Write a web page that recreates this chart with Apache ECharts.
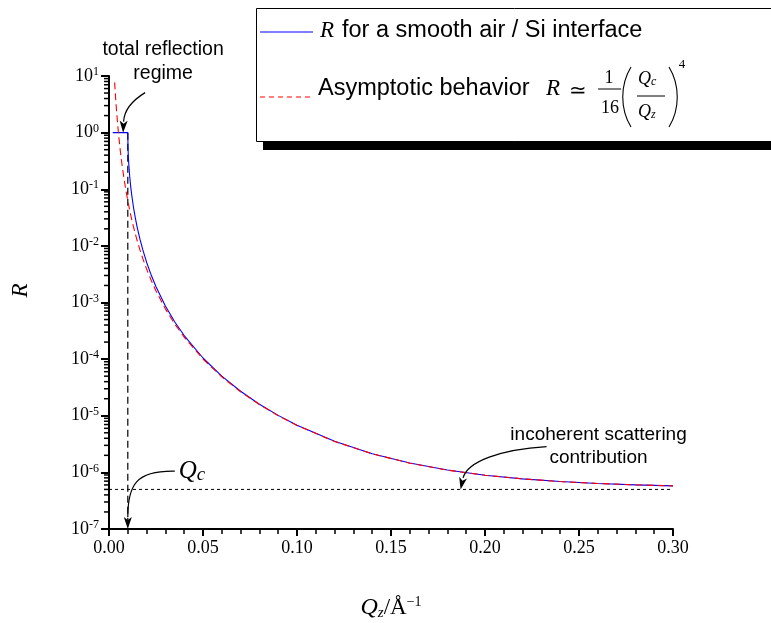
<!DOCTYPE html>
<html>
<head>
<meta charset="utf-8">
<script src="https://cdn.jsdelivr.net/npm/echarts@6/dist/echarts.min.js"></script>
<style>
  html, body { margin: 0; padding: 0; background: #fff; }
  #chart { width: 771px; height: 623px; }
</style>
</head>
<body>
<div id="chart"></div>
<script>
// reflectivity of a smooth air / Si interface
const qzSmooth = [0.002, 0.01, 0.0101, 0.0102, 0.0103, 0.0105, 0.011, 0.0115, 0.012, 0.013, 0.014, 0.015,
  0.0165, 0.018, 0.02, 0.0225, 0.025, 0.03, 0.035, 0.04, 0.05, 0.06, 0.07, 0.08, 0.09, 0.10,
  0.12, 0.14, 0.16, 0.18, 0.20, 0.22, 0.24, 0.26, 0.28, 0.30]
const rSmooth = [1, 1, 0.568, 0.450, 0.376, 0.284, 0.170, 0.115, 0.0830, 0.0485, 0.0312, 0.0213,
  0.0130, 0.00847, 0.00515, 0.00302, 0.00190, 8.67e-4, 4.53e-4, 2.61e-4, 1.046e-4, 5.01e-5, 2.71e-5, 1.60e-5, 1.015e-5, 6.81e-6,
  3.54e-6, 2.14e-6, 1.46e-6, 1.10e-6, 8.92e-7, 7.67e-7, 6.89e-7, 6.37e-7, 6.02e-7, 5.77e-7]

// asymptotic behaviour (dashed red)
const qzAsym = [0.003, 0.0035, 0.004, 0.005, 0.006, 0.007, 0.008, 0.009, 0.01, 0.011, 0.012, 0.013, 0.014, 0.015,
  0.0165, 0.018, 0.02, 0.0225, 0.025, 0.03, 0.035, 0.04, 0.05, 0.06, 0.07, 0.08, 0.09, 0.10,
  0.12, 0.14, 0.16, 0.18, 0.20, 0.22, 0.24, 0.26, 0.28, 0.30]
const rAsym = [7.72, 4.17, 2.44, 1.0, 0.482, 0.260, 0.153, 0.0953, 0.0625, 0.0427, 0.0301, 0.0219, 0.0163, 0.0123,
  0.00843, 0.00595, 0.00391, 0.00244, 0.00160, 7.72e-4, 4.17e-4, 2.45e-4, 1.005e-4, 4.87e-5, 2.65e-5, 1.58e-5, 1.003e-5, 6.75e-6,
  3.51e-6, 2.13e-6, 1.454e-6, 1.095e-6, 8.91e-7, 7.67e-7, 6.88e-7, 6.37e-7, 6.02e-7, 5.77e-7]

const qcLine = [[0.01, 1], [0.01, 1e-7]]
const incoherentLine = [[0, 5e-7], [0.3, 5e-7]]

const yDecades = [-7, -6, -5, -4, -3, -2, -1, 0]
const minorSteps = [2, 3, 4, 5, 6, 7, 8, 9]

const SERIF = 'Liberation Serif'
const SANS = 'Liberation Sans'

const zip = (xs, ys) => xs.map((x, i) => [x, ys[i]])

const chart = echarts.init(document.getElementById('chart'))

chart.setOption({
  animation: false,
  backgroundColor: '#fff',
  grid: { left: 109, right: 98, top: 76, bottom: 94, containLabel: false, outerBoundsMode: 'none' },
  xAxis: {
    type: 'value',
    min: 0,
    max: 0.3,
    interval: 0.05,
    name: '{q|Q}{s|z}{n|/Å}{p|−1}',
    nameLocation: 'middle',
    nameGap: 66,
    nameTextStyle: {
      rich: {
        q: { fontFamily: SERIF, fontStyle: 'italic', fontSize: 24, lineHeight: 26, color: '#000' },
        s: { fontFamily: SERIF, fontStyle: 'italic', fontSize: 15, lineHeight: 12, verticalAlign: 'bottom', color: '#000' },
        n: { fontFamily: SERIF, fontSize: 23, lineHeight: 26, color: '#000' },
        p: { fontFamily: SERIF, fontSize: 14, lineHeight: 12, verticalAlign: 'top', color: '#000' }
      }
    },
    axisLine: { lineStyle: { color: '#000', width: 2 } },
    axisTick: { length: 7, lineStyle: { color: '#000', width: 2 } },
    minorTick: { show: true, splitNumber: 5, length: 5, lineStyle: { color: '#000', width: 1.5 } },
    splitLine: { show: false },
    axisLabel: {
      margin: 10,
      fontFamily: SERIF,
      fontSize: 18,
      color: '#000',
      formatter: v => v.toFixed(2)
    }
  },
  yAxis: {
    type: 'log',
    logBase: 10,
    min: 1e-7,
    max: 10,
    splitNumber: 8,
    name: 'R',
    nameLocation: 'middle',
    nameGap: 77,
    nameRotate: 90,
    nameTextStyle: { fontFamily: SERIF, fontStyle: 'italic', fontSize: 23, color: '#000', padding: [0, 0, 0, 24] },
    axisLine: { show: true, lineStyle: { color: '#000', width: 2 } },
    axisTick: { show: true, length: 8, lineStyle: { color: '#000', width: 2 } },
    splitLine: { show: false },
    axisLabel: {
      margin: 10,
      formatter: v => '{b|10}{s|' + Math.round(Math.log10(v)) + '}',
      rich: {
        b: { fontFamily: SERIF, fontSize: 18, lineHeight: 20, color: '#000' },
        s: { fontFamily: SERIF, fontSize: 12, lineHeight: 12, verticalAlign: 'top', color: '#000' }
      }
    }
  },
  series: [
    {
      name: 'smooth',
      type: 'line',
      data: zip(qzSmooth, rSmooth),
      showSymbol: false,
      lineStyle: { color: '#0000ff', width: 1.1 },
      z: 3
    },
    {
      name: 'asymptotic',
      type: 'line',
      data: zip(qzAsym, rAsym),
      showSymbol: false,
      lineStyle: { color: '#ff0000', width: 1.1, type: [7, 4] },
      z: 4
    },
    {
      name: 'qc',
      type: 'line',
      data: qcLine,
      showSymbol: false,
      lineStyle: { color: '#000', width: 1.2, type: [7, 4] },
      z: 2
    },
    {
      name: 'incoherent',
      type: 'line',
      data: incoherentLine,
      showSymbol: false,
      lineStyle: { color: '#000', width: 1, type: [3, 3] },
      z: 2
    },
    {
      // log minor ticks (2..9 in each decade) on the left axis
      name: 'yMinorTicks',
      type: 'custom',
      clip: false,
      silent: true,
      data: yDecades.map(e => [0, Math.pow(10, e)]),
      renderItem (params, api) {
        const e = yDecades[params.dataIndex]
        return {
          type: 'group',
          children: minorSteps.map(m => {
            const p = api.coord([0, m * Math.pow(10, e)])
            return {
              type: 'line',
              shape: { x1: p[0] - 5, y1: p[1], x2: p[0], y2: p[1] },
              style: { stroke: '#000', lineWidth: 1.5 }
            }
          })
        }
      },
      z: 5
    }
  ]
})

// ---- annotations and legend ----
const px = (x, y) => chart.convertToPixel({ gridIndex: 0 }, [x, y])

function arrow (tip, start, cp1, cp2, end) {
  const dx = tip[0] - end[0]
  const dy = tip[1] - end[1]
  const len = Math.sqrt(dx * dx + dy * dy)
  const ux = dx / len
  const uy = dy / len
  const bx = tip[0] - ux * 12
  const by = tip[1] - uy * 12
  return [
    {
      type: 'bezierCurve',
      shape: { x1: start[0], y1: start[1], cpx1: cp1[0], cpy1: cp1[1], cpx2: cp2[0], cpy2: cp2[1], x2: end[0], y2: end[1] },
      style: { stroke: '#000', lineWidth: 1.2, fill: null },
      z: 50
    },
    {
      type: 'polygon',
      shape: { points: [tip, [bx - uy * 4, by + ux * 4], [bx + ux * 3, by + uy * 3], [bx + uy * 4, by - ux * 4]] },
      style: { fill: '#000' },
      z: 50
    }
  ]
}

const rel = (o, dx, dy) => [o[0] + dx, o[1] + dy]

const tipReflect = px(0.0075, 1)
const tipQc = px(0.01, 1e-7)
const tipIncoh = px(0.187, 5e-7)

const txt = (text, x, y, font, extra, z) => ({
  type: 'text',
  z: z || 60,
  style: Object.assign({ text, x, y, font, fill: '#000', align: 'center', verticalAlign: 'middle' }, extra || {})
})

const annotations = [
  ...arrow(tipReflect, rel(tipReflect, 22, -40), rel(tipReflect, 9, -32), rel(tipReflect, 1, -22), rel(tipReflect, 0.5, -11)),
  txt('total reflection', tipReflect[0] + 40, tipReflect[1] - 83, '19.5px ' + SANS),
  txt('regime', tipReflect[0] + 40, tipReflect[1] - 59, '19.5px ' + SANS),

  ...arrow(tipQc, rel(tipQc, 47, -57.8), rel(tipQc, 8, -58.5), rel(tipQc, 0, -44), rel(tipQc, 0, -12)),
  {
    type: 'text',
    z: 60,
    style: {
      text: '{q|Q}{s|c}',
      x: tipQc[0] + 51,
      y: tipQc[1] - 58,
      align: 'left',
      verticalAlign: 'middle',
      rich: {
        q: { fontFamily: SERIF, fontStyle: 'italic', fontSize: 25, lineHeight: 26, fill: '#000' },
        s: { fontFamily: SERIF, fontStyle: 'italic', fontSize: 19, lineHeight: 14, verticalAlign: 'bottom', fill: '#000' }
      }
    }
  },

  ...arrow(tipIncoh, rel(tipIncoh, 86, -42.8), rel(tipIncoh, 40, -40), rel(tipIncoh, 7, -28), rel(tipIncoh, 2.5, -11.5)),
  txt('incoherent scattering', tipIncoh[0] + 138, tipIncoh[1] - 55, '19px ' + SANS),
  txt('contribution', tipIncoh[0] + 138, tipIncoh[1] - 32, '19px ' + SANS)
]

const mathFont = size => 'italic ' + size + 'px ' + SERIF
const paren = (x, y1, y2, dir) => ({
  type: 'bezierCurve',
  z: 80,
  shape: { x1: x, y1, cpx1: x - dir * 11, cpy1: y1 + 18, cpx2: x - dir * 11, cpy2: y2 - 18, x2: x, y2 },
  style: { stroke: '#000', lineWidth: 1.1, fill: null }
})
const subText = (main, sub, x, y, size, subSize) => ({
  type: 'text',
  z: 80,
  style: {
    text: '{q|' + main + '}{s|' + sub + '}',
    x,
    y,
    align: 'left',
    verticalAlign: 'middle',
    rich: {
      q: { fontFamily: SERIF, fontStyle: 'italic', fontSize: size, lineHeight: size, fill: '#000' },
      s: { fontFamily: SERIF, fontStyle: 'italic', fontSize: subSize, lineHeight: subSize - 2, verticalAlign: 'bottom', fill: '#000' }
    }
  }
})

const legend = [
  { type: 'rect', z: 70, shape: { x: 263, y: 15, width: 520, height: 135 }, style: { fill: '#000' } },
  { type: 'rect', z: 71, shape: { x: 256.5, y: 8.5, width: 530, height: 133 }, style: { fill: '#fff', stroke: '#000', lineWidth: 1 } },
  { type: 'line', z: 80, shape: { x1: 260, y1: 32, x2: 313, y2: 32 }, style: { stroke: '#0000ff', lineWidth: 1.1 } },
  txt('R', 320, 31, mathFont(23), { align: 'left' }, 80),
  txt('for a smooth air / Si interface', 342, 31, '23.5px ' + SANS, { align: 'left' }, 80),
  { type: 'line', z: 80, shape: { x1: 260, y1: 97, x2: 313, y2: 97 }, style: { stroke: '#ff0000', lineWidth: 1.1, lineDash: [5, 4] } },
  txt('Asymptotic behavior', 318, 89, '23.5px ' + SANS, { align: 'left' }, 80),
  txt('R', 546, 89, mathFont(23), { align: 'left' }, 80),
  txt('≃', 578, 91, '21px ' + SERIF, null, 80),
  txt('1', 609, 78, '18px ' + SERIF, null, 80),
  { type: 'line', z: 80, shape: { x1: 598, y1: 89, x2: 621, y2: 89 }, style: { stroke: '#000', lineWidth: 1 } },
  txt('16', 610, 108, '18px ' + SERIF, null, 80),
  paren(631, 67, 127, 1),
  subText('Q', 'c', 638, 79, 18, 12),
  { type: 'line', z: 80, shape: { x1: 637, y1: 96, x2: 665, y2: 96 }, style: { stroke: '#000', lineWidth: 1 } },
  subText('Q', 'z', 638, 112, 18, 12),
  paren(669, 67, 127, -1),
  txt('4', 682, 65, '13px ' + SERIF, null, 80)
]

chart.setOption({ graphic: [...annotations, ...legend] })
</script>
</body>
</html>
